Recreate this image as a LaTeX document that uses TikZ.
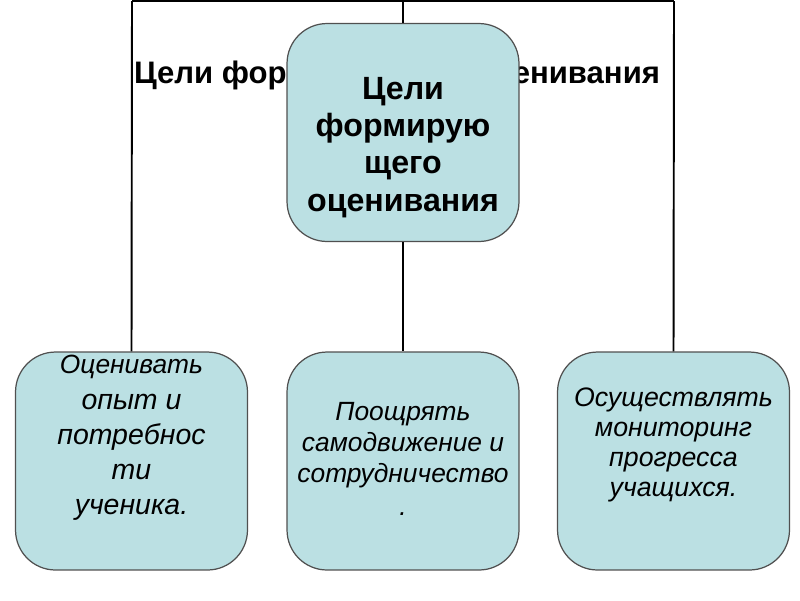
\documentclass[tikz,border=0pt]{standalone}
\usepackage{fontspec}
\setmainfont{Liberation Sans}
\usetikzlibrary{positioning}
\definecolor{boxfill}{HTML}{BBE0E3}
\definecolor{boxline}{HTML}{505050}
\tikzset{
  goalbox/.style={draw=boxline, line width=0.7pt, fill=boxfill,
    rounded corners=0.8cm, minimum width=4.64cm, minimum height=4.36cm, inner sep=0pt},
  goaltext/.style={align=center, inner sep=0pt},
  link/.style={line width=1.1pt}
}
\begin{document}
\begin{tikzpicture}[x=0.02cm, y=-0.02cm]
\useasboundingbox (0,0) rectangle (800,600);
% frame of connectors
\coordinate (topL) at (132,1);
\coordinate (topC) at (403,1);
\coordinate (topR) at (674,1);
\node[font=\bfseries\fontsize{17.7}{21}\selectfont] (title) at (397,75) {Цели формирующего оценивания};
% boxes
\node[goalbox] (goal) at (403,132.5) {};
\node[goalbox] (opyt) at (131.5,461) {};
\node[goalbox] (pooshch) at (403,461) {};
\node[goalbox] (monitor) at (673.5,461) {};
\draw[link] (topL) -- (topR);
\draw[link] (topL) -- (opyt.north);
\draw[link] (topC) -- (goal.north);
\draw[link] (goal.south) -- (pooshch.north);
\draw[link] (topR) -- (monitor.north);
% texts
\node[goaltext, font=\bfseries\fontsize{18.3}{21.2}\selectfont] (goalT)
  at ([yshift=-0.3cm]goal.center) {Цели\\формирую\\щего\\оценивания};
\node[goaltext, font=\itshape\fontsize{16.2}{20}\selectfont] (opytT)
  at ([yshift=0.46cm]opyt.center) {{\fontsize{15}{17}\selectfont Оценивать}\\опыт и\\потребнос\\ти\\ученика.};
\node[goaltext, font=\itshape\fontsize{15}{17.6}\selectfont] (pooshchT)
  at ([yshift=0.04cm]pooshch.center) {Поощрять\\самодвижение и\\сотрудничество\\[0.05cm].};
\node[goaltext, font=\itshape\fontsize{15.2}{17}\selectfont] (monitorT)
  at ([yshift=0.32cm]monitor.center) {Осуществлять\\мониторинг\\прогресса\\учащихся.};
\end{tikzpicture}
\end{document}
